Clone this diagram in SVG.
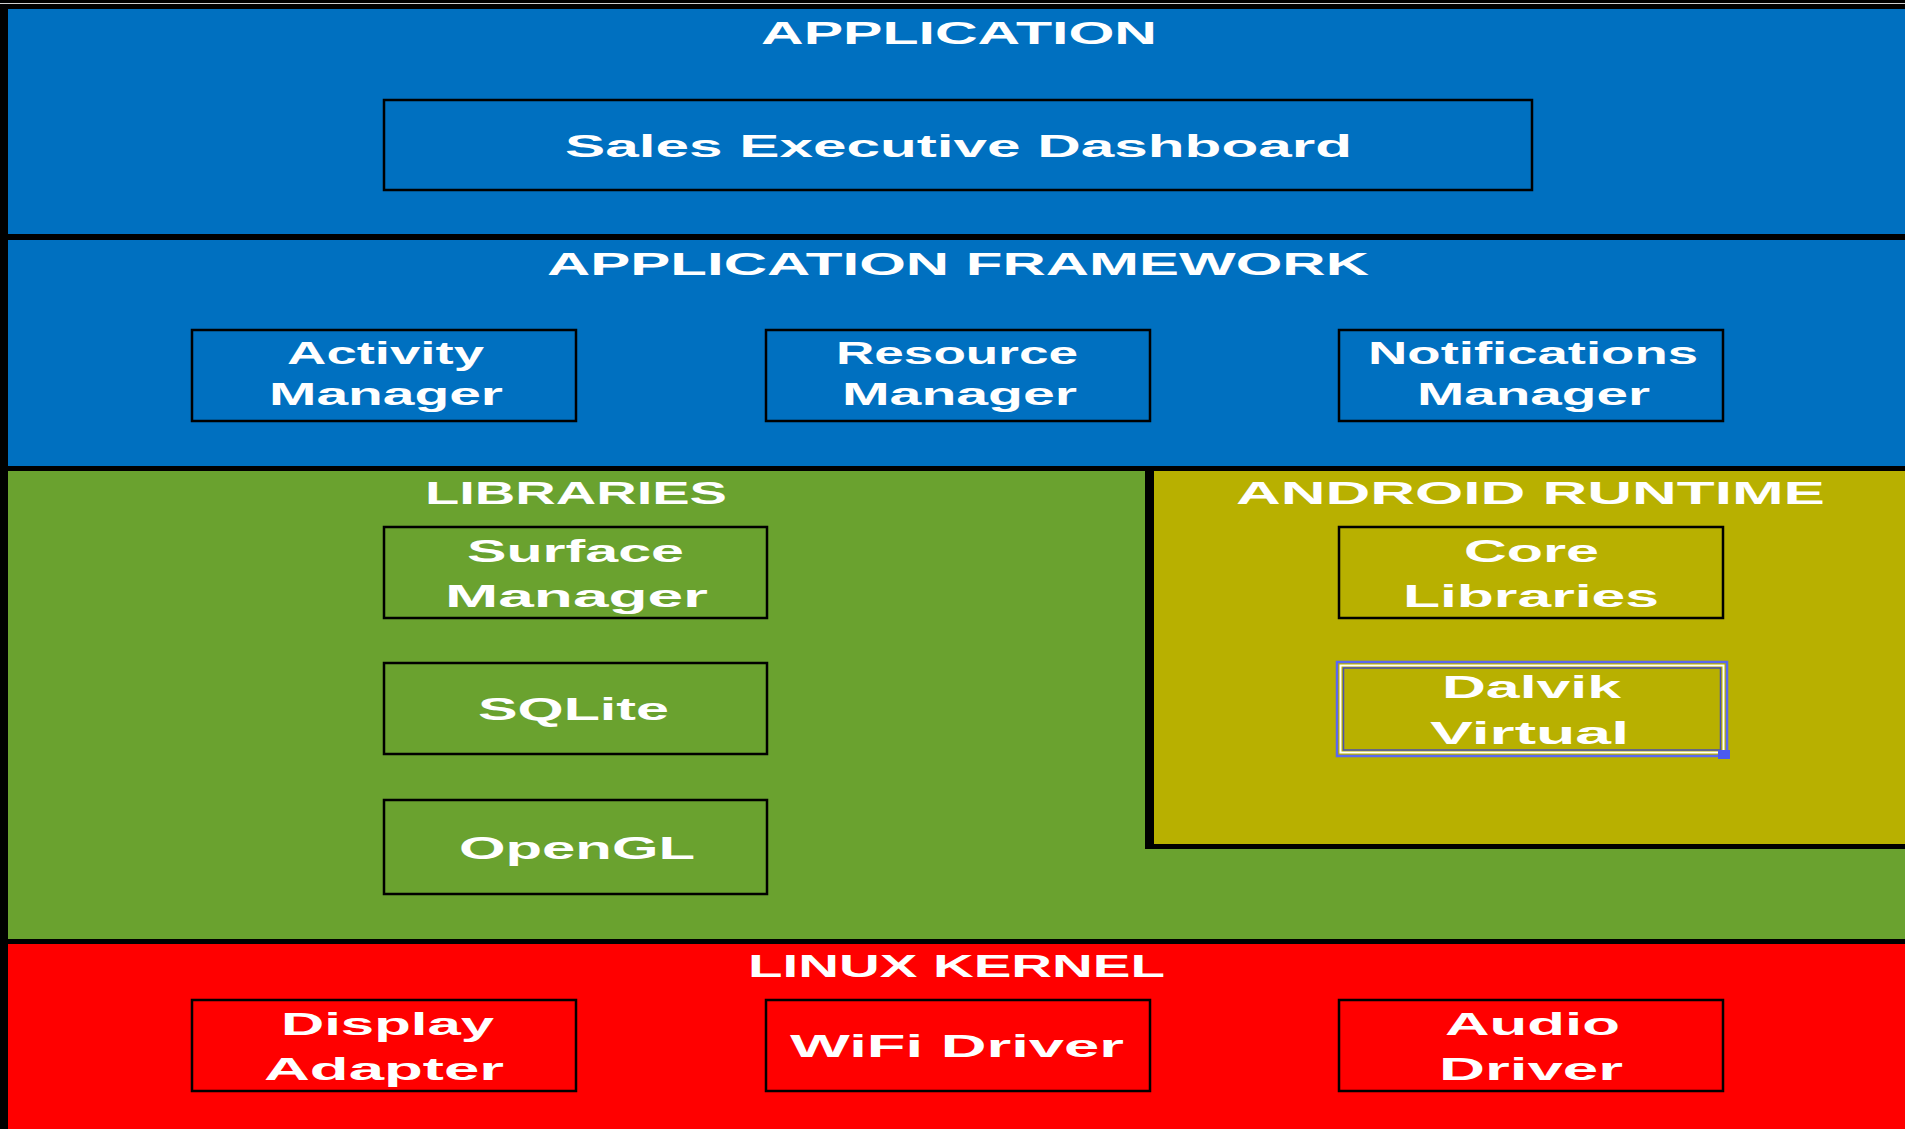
<svg xmlns="http://www.w3.org/2000/svg" width="1905" height="1129" viewBox="0 0 1905 1129">
<style>
.t{font-family:"Liberation Sans",Arial,sans-serif;font-weight:bold;font-size:31px;fill:#ffffff}
.b{fill:none;stroke:#000;stroke-width:2.5}
</style>
<rect x="0" y="0" width="1905" height="1129" fill="#000"/>
<line x1="0" y1="3.5" x2="1905" y2="3.5" stroke="#d0d0d0" stroke-width="1"/>
<g id="layer-application">
<rect x="8" y="9" width="1897" height="225" fill="#0070C0"/>
<text class="t" x="761" y="44" textLength="396" lengthAdjust="spacingAndGlyphs">APPLICATION</text>
</g>
<g id="node-sales">
<rect class="b" x="384" y="100" width="1148" height="90" fill="#0070C0"/>
<text class="t" x="565" y="157" textLength="787" lengthAdjust="spacingAndGlyphs">Sales Executive Dashboard</text>
</g>
<g id="layer-framework">
<rect x="8" y="240" width="1897" height="226" fill="#0070C0"/>
<text class="t" x="547" y="275" textLength="822" lengthAdjust="spacingAndGlyphs">APPLICATION FRAMEWORK</text>
</g>
<g id="node-activity">
<rect class="b" x="192" y="330" width="384" height="91" fill="#0070C0"/>
<text class="t" x="287" y="364" textLength="197" lengthAdjust="spacingAndGlyphs">Activity</text>
<text class="t" x="269" y="405" textLength="234" lengthAdjust="spacingAndGlyphs">Manager</text>
</g>
<g id="node-resource">
<rect class="b" x="766" y="330" width="384" height="91" fill="#0070C0"/>
<text class="t" x="836" y="364" textLength="242" lengthAdjust="spacingAndGlyphs">Resource</text>
<text class="t" x="842" y="405" textLength="235" lengthAdjust="spacingAndGlyphs">Manager</text>
</g>
<g id="node-notifications">
<rect class="b" x="1339" y="330" width="384" height="91" fill="#0070C0"/>
<text class="t" x="1368" y="364" textLength="330" lengthAdjust="spacingAndGlyphs">Notifications</text>
<text class="t" x="1417" y="405" textLength="233" lengthAdjust="spacingAndGlyphs">Manager</text>
</g>
<g id="layer-libraries">
<rect x="8" y="471" width="1897" height="468" fill="#6AA22F"/>
<text class="t" x="425" y="504" textLength="302" lengthAdjust="spacingAndGlyphs">LIBRARIES</text>
</g>
<g id="layer-runtime">
<rect x="1145" y="471" width="760" height="378" fill="#000"/>
<rect x="1154" y="471" width="751" height="373" fill="#B8B000"/>
<text class="t" x="1236" y="504" textLength="589" lengthAdjust="spacingAndGlyphs">ANDROID RUNTIME</text>
</g>
<g id="node-surface">
<rect class="b" x="384" y="527" width="383" height="91" fill="#6AA22F"/>
<text class="t" x="467" y="562" textLength="217" lengthAdjust="spacingAndGlyphs">Surface</text>
<text class="t" x="445" y="607" textLength="263" lengthAdjust="spacingAndGlyphs">Manager</text>
</g>
<g id="node-sqlite">
<rect class="b" x="384" y="663" width="383" height="91" fill="#6AA22F"/>
<text class="t" x="478" y="720" textLength="191" lengthAdjust="spacingAndGlyphs">SQLite</text>
</g>
<g id="node-opengl">
<rect class="b" x="384" y="800" width="383" height="94" fill="#6AA22F"/>
<text class="t" x="459" y="859" textLength="236" lengthAdjust="spacingAndGlyphs">OpenGL</text>
</g>
<g id="node-core">
<rect class="b" x="1339" y="527" width="384" height="91" fill="#B8B000"/>
<text class="t" x="1464" y="562" textLength="135" lengthAdjust="spacingAndGlyphs">Core</text>
<text class="t" x="1403" y="607" textLength="256" lengthAdjust="spacingAndGlyphs">Libraries</text>
</g>
<g id="node-dalvik">
<rect x="1337" y="662" width="390" height="94" fill="#B8B000" stroke="#5A68F0" stroke-width="2.5"/>
<rect x="1340.5" y="665.5" width="383" height="87" fill="none" stroke="#ffffff" stroke-width="2"/>
<rect x="1343.5" y="668" width="377" height="82" fill="none" stroke="#4A50B0" stroke-width="1.5"/>
<rect x="1718" y="750" width="12" height="9" fill="#4A5AF0"/>
<text class="t" x="1442" y="698" textLength="179" lengthAdjust="spacingAndGlyphs">Dalvik</text>
<text class="t" x="1430" y="744" textLength="199" lengthAdjust="spacingAndGlyphs">Virtual</text>
</g>
<g id="layer-kernel">
<rect x="8" y="944" width="1897" height="185" fill="#FF0000"/>
<text class="t" x="748" y="977" textLength="417" lengthAdjust="spacingAndGlyphs">LINUX KERNEL</text>
</g>
<g id="node-display">
<rect class="b" x="192" y="1000" width="384" height="91" fill="#FF0000"/>
<text class="t" x="281" y="1035" textLength="213" lengthAdjust="spacingAndGlyphs">Display</text>
<text class="t" x="264" y="1080" textLength="240" lengthAdjust="spacingAndGlyphs">Adapter</text>
</g>
<g id="node-wifi">
<rect class="b" x="766" y="1000" width="384" height="91" fill="#FF0000"/>
<text class="t" x="790" y="1057" textLength="334" lengthAdjust="spacingAndGlyphs">WiFi Driver</text>
</g>
<g id="node-audio">
<rect class="b" x="1339" y="1000" width="384" height="91" fill="#FF0000"/>
<text class="t" x="1445" y="1035" textLength="175" lengthAdjust="spacingAndGlyphs">Audio</text>
<text class="t" x="1439" y="1080" textLength="184" lengthAdjust="spacingAndGlyphs">Driver</text>
</g>
<g id="connectors"></g>
</svg>
